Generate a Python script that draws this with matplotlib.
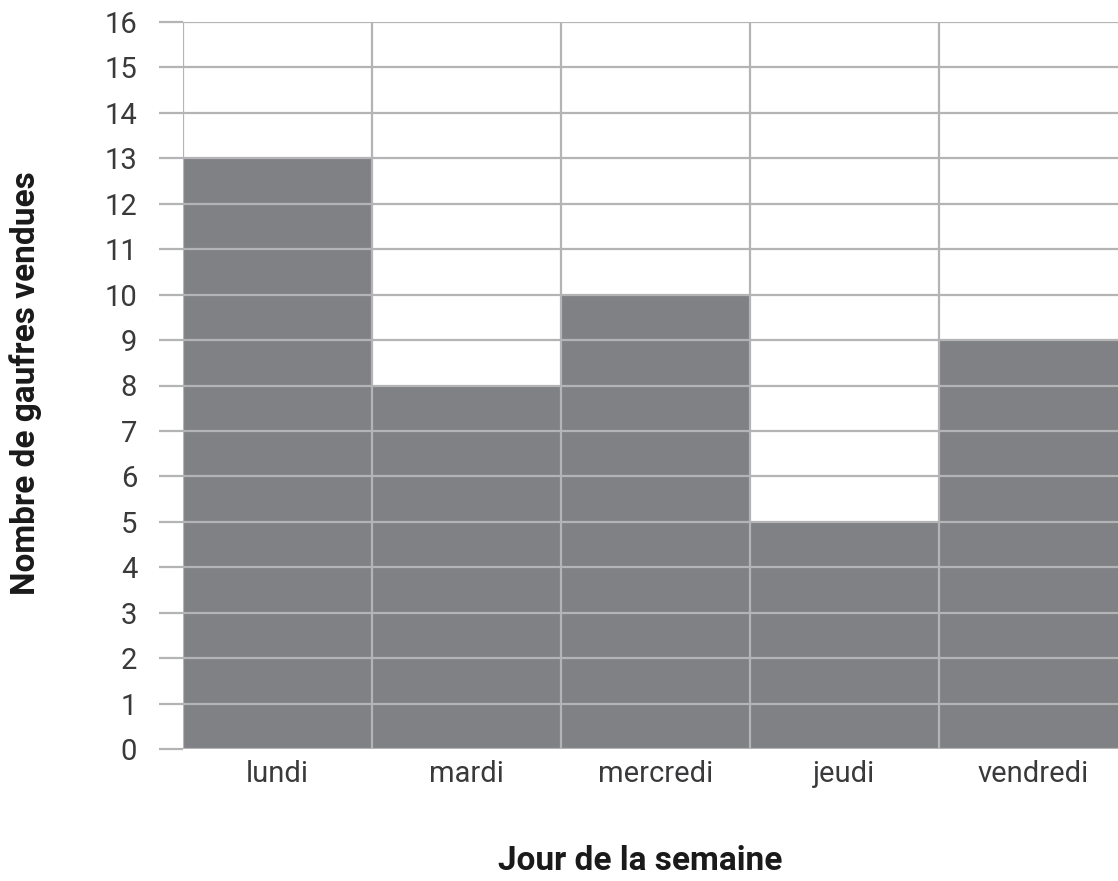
import matplotlib.pyplot as plt
import numpy as np

jours = ['lundi', 'mardi', 'mercredi', 'jeudi', 'vendredi']
gaufres = [13, 8, 10, 5, 9]
yticks = list(range(0, 17))

plt.rcParams['font.family'] = ['Roboto', 'DejaVu Sans']

bar_col = '#808184'
grid_col = '#b4b4b7'
txt_col = '#3a3a3c'

W, H = 1118, 881
left, right, top, bottom = 183, 1128, 22, 749

fig = plt.figure(figsize=(W / 100, H / 100), dpi=100)
ax = fig.add_axes([left / W, 1 - bottom / H, (right - left) / W, (bottom - top) / H])

x = np.arange(len(jours))
ax.bar(x, gaufres, width=1.0, color=bar_col, zorder=1)

ax.set_xlim(-0.5, len(jours) - 0.5)
ax.set_ylim(0, 16)

# grid over the bars, vertical lines at the bar edges
for v in yticks:
    ax.axhline(v, color=grid_col, lw=1.6, zorder=3)
for e in np.arange(-0.5, len(jours), 1.0):
    ax.axvline(e, color=grid_col, lw=1.6, zorder=3)

for s in ax.spines.values():
    s.set_visible(False)

ax.set_yticks(yticks)
ax.set_yticklabels([str(v) for v in yticks], fontsize=21, color=txt_col)
ax.tick_params(axis='y', length=17, width=1.6, color=grid_col, pad=16)
ax.set_xticks(x)
ax.set_xticklabels(jours, fontsize=21, color=txt_col)
ax.tick_params(axis='x', length=0, pad=8)

ax.set_xlabel('Jour de la semaine', fontsize=24, fontweight='bold', color='#1a1a1a')
ax.set_ylabel('Nombre de gaufres vendues', fontsize=24, fontweight='bold', color='#1a1a1a')
ax.xaxis.set_label_coords((640 - left) / (right - left), -(845 - bottom) / (bottom - top))
ax.yaxis.set_label_coords(-(left - 42) / (right - left), (bottom - 383) / (bottom - top))

fig.savefig('out.png', dpi=100)
